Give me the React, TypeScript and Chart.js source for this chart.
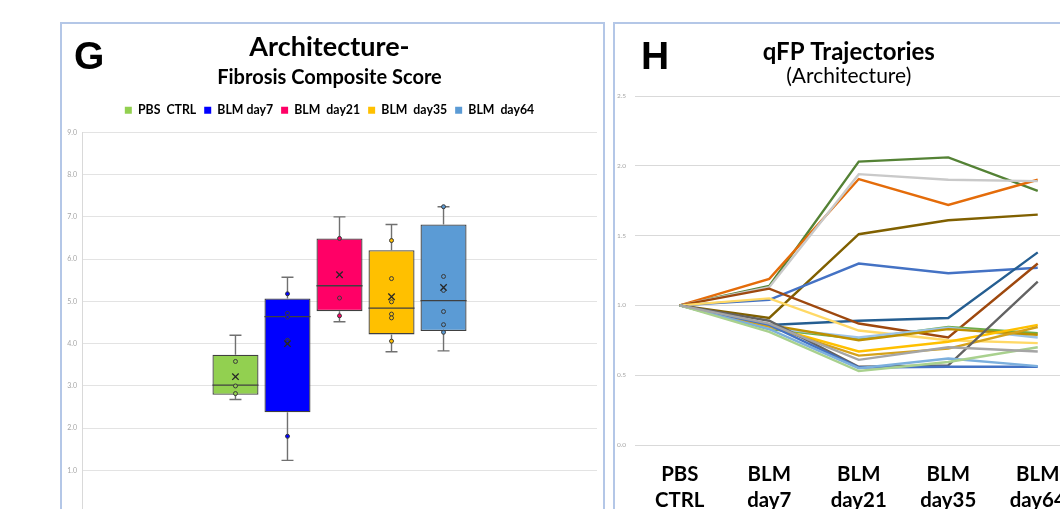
import React, { useEffect, useRef } from "react";
import { Chart, registerables } from "chart.js";

Chart.register(...registerables);

// ---------- Panel G: box plot data ----------
const boxSeries = ["PBS  CTRL", "BLM day7", "BLM  day21", "BLM  day35", "BLM  day64"];
const boxColors = ["#92D050", "#0000FF", "#FF0066", "#FFC000", "#5B9BD5"];
const boxMin = [2.68, 1.24, 4.52, 3.81, 3.83];
const boxQ1 = [2.79, 2.38, 4.77, 4.22, 4.3];
const boxMedian = [3.02, 4.64, 5.37, 4.84, 5.02];
const boxQ3 = [3.74, 5.07, 6.49, 6.21, 6.82];
const boxMax = [4.2, 5.57, 7.0, 6.82, 7.24];
const boxMean = [3.22, 4.0, 5.63, 5.11, 5.33];
const boxPointsCtrl = [3.58, 3.0, 2.82];
const boxPointsDay7 = [5.18, 4.72, 4.63, 4.08, 4.04, 1.81];
const boxPointsDay21 = [6.49, 5.08, 4.66];
const boxPointsDay35 = [6.44, 5.54, 4.99, 4.7, 4.61, 4.06];
const boxPointsDay64 = [7.24, 5.59, 5.26, 4.76, 4.45, 4.27];
const boxPoints = [boxPointsCtrl, boxPointsDay7, boxPointsDay21, boxPointsDay35, boxPointsDay64];
const boxAxisMin = 0;
const boxAxisMax = 9;

// ---------- Panel H: trajectory data ----------
const trajCategories = [
  ["PBS", "CTRL"],
  ["BLM", "day7"],
  ["BLM", "day21"],
  ["BLM", "day35"],
  ["BLM", "day64"],
];
const trajA = [1, 1.14, 2.03, 2.06, 1.82];
const trajB = [1, 1.13, 1.94, 1.9, 1.89];
const trajC = [1, 1.19, 1.905, 1.72, 1.9];
const trajD = [1, 0.91, 1.51, 1.61, 1.65];
const trajE = [1, 1.04, 1.3, 1.23, 1.27];
const trajF = [1, 0.86, 0.89, 0.91, 1.38];
const trajG = [1, 1.12, 0.87, 0.77, 1.3];
const trajH = [1, 0.89, 0.56, 0.57, 1.17];
const trajI = [1, 1.05, 0.82, 0.75, 0.73];
const trajJ = [1, 0.81, 0.53, 0.595, 0.7];
const trajK = [1, 0.83, 0.76, 0.845, 0.8];
const trajL = [1, 0.84, 0.77, 0.84, 0.77];
const trajM = [1, 0.86, 0.555, 0.56, 0.56];
const trajN = [1, 0.83, 0.55, 0.62, 0.565];
const trajO = [1, 0.86, 0.75, 0.83, 0.79];
const trajP = [1, 0.85, 0.67, 0.74, 0.86];
const trajQ = [1, 0.85, 0.64, 0.69, 0.845];
const trajR = [1, 0.87, 0.61, 0.7, 0.67];
const trajSeries = [trajR, trajJ, trajN, trajM, trajH, trajQ, trajP, trajO, trajL, trajK, trajI, trajG, trajF, trajE, trajD, trajB, trajC, trajA];
const trajNames = ["R", "J", "N", "M", "H", "Q", "P", "O", "L", "K", "I", "G", "F", "E", "D", "B", "C", "A"];
const trajColors = [
  "#A5A5A5", "#A9D18E", "#7CAFDD", "#4472C4", "#636363", "#D6A21A", "#FFC000", "#BF9000", "#9DC3E6",
  "#70AD47", "#FFD966", "#9E480E", "#255E91", "#4472C4", "#806000", "#C9C9C9", "#E46C0A", "#548235",
];

const boxDetailPlugin = {
  id: "boxDetails",
  afterDatasetsDraw(chart: any) {
    const ctx = chart.ctx;
    const y = chart.scales.y;
    chart.data.datasets.forEach((_ds: any, i: number) => {
      const meta = chart.getDatasetMeta(i);
      const el: any = meta.data[0];
      if (!el) return;
      const x = el.x;
      const half = el.width / 2;
      const cap = el.width * 0.13;
      const yMax = y.getPixelForValue(boxMax[i]);
      const yQ3 = y.getPixelForValue(boxQ3[i]);
      const yQ1 = y.getPixelForValue(boxQ1[i]);
      const yMin = y.getPixelForValue(boxMin[i]);
      const yMed = y.getPixelForValue(boxMedian[i]);
      const yMean = y.getPixelForValue(boxMean[i]);
      ctx.save();
      ctx.strokeStyle = "#707070";
      ctx.lineWidth = 1.4;
      ctx.beginPath();
      ctx.moveTo(x, yQ3);
      ctx.lineTo(x, yMax);
      ctx.moveTo(x - cap, yMax);
      ctx.lineTo(x + cap, yMax);
      ctx.moveTo(x, yQ1);
      ctx.lineTo(x, yMin);
      ctx.moveTo(x - cap, yMin);
      ctx.lineTo(x + cap, yMin);
      ctx.stroke();
      ctx.strokeStyle = "#404040";
      ctx.lineWidth = 1.3;
      ctx.beginPath();
      ctx.moveTo(x - half, yMed);
      ctx.lineTo(x + half, yMed);
      ctx.stroke();
      boxPoints[i].forEach((v) => {
        const py = y.getPixelForValue(v);
        ctx.beginPath();
        ctx.arc(x, py, 2, 0, Math.PI * 2);
        ctx.fillStyle = boxColors[i];
        ctx.fill();
        ctx.strokeStyle = "#3a3a3a";
        ctx.lineWidth = 1;
        ctx.stroke();
      });
      const s = 3.2;
      ctx.strokeStyle = "#262626";
      ctx.lineWidth = 1.3;
      ctx.beginPath();
      ctx.moveTo(x - s, yMean - s);
      ctx.lineTo(x + s, yMean + s);
      ctx.moveTo(x + s, yMean - s);
      ctx.lineTo(x - s, yMean + s);
      ctx.stroke();
      ctx.restore();
    });
  },
};

export default function App() {
  const boxRef = useRef<HTMLCanvasElement | null>(null);
  const lineRef = useRef<HTMLCanvasElement | null>(null);

  useEffect(() => {
    const boxChart = new Chart(boxRef.current as HTMLCanvasElement, {
      type: "bar",
      data: {
        labels: [""],
        datasets: boxSeries.map((name, i) => ({
          label: name,
          data: [[boxQ1[i], boxQ3[i]]],
          backgroundColor: boxColors[i],
          borderColor: "#404040",
          borderWidth: 1.3,
          borderSkipped: false,
          categoryPercentage: 0.505,
          barPercentage: 0.885,
        })) as any,
      },
      options: {
        animation: false,
        responsive: false,
        maintainAspectRatio: false,
        layout: { padding: { left: 0, right: 6, top: 0, bottom: 3.3 } },
        plugins: {
          title: {
            display: true,
            text: "Architecture-",
            color: "#000",
            font: { family: "Lato", size: 27, weight: "bold", lineHeight: 1.2 },
            padding: { top: 7.3, bottom: 0 },
          },
          subtitle: {
            display: true,
            text: "Fibrosis Composite Score",
            color: "#000",
            font: { family: "Lato", size: 20, weight: "bold", lineHeight: 1.2 },
            padding: { top: 2.3, bottom: 6 },
          },
          legend: {
            display: true,
            position: "top",
            labels: {
              boxWidth: 7,
              boxHeight: 7,
              padding: 8,
              color: "#000",
              font: { family: "Lato", size: 12.3, weight: "bold" },
              generateLabels: (chart: any) =>
                (Chart.defaults.plugins.legend.labels.generateLabels as any)(chart).map((l: any) => ({
                  ...l,
                  lineWidth: 0,
                  strokeStyle: l.fillStyle,
                })),
            },
          },
          tooltip: { enabled: false },
        },
        scales: {
          x: {
            position: "top",
            ticks: { display: false },
            grid: { display: false, drawTicks: false },
            border: { display: false },
            afterFit: (s: any) => {
              s.height = 6;
            },
          },
          y: {
            min: boxAxisMin,
            max: boxAxisMax,
            ticks: {
              stepSize: 1,
              padding: 5,
              color: "#a6a6a6",
              font: { family: "Lato", size: 7 },
              callback: (v: any) => Number(v).toFixed(1),
            },
            grid: { color: "#e3e3e3", drawTicks: false },
            border: { display: true, color: "#d9d9d9" },
            afterFit: (s: any) => {
              s.width = 20;
            },
          },
        },
      } as any,
      plugins: [boxDetailPlugin],
    });

    const lineChart = new Chart(lineRef.current as HTMLCanvasElement, {
      type: "line",
      data: {
        labels: trajCategories as any,
        datasets: trajSeries.map((vals, i) => ({
          label: trajNames[i],
          data: vals,
          borderColor: trajColors[i],
          backgroundColor: trajColors[i],
          borderWidth: 2.4,
          pointRadius: 0,
          tension: 0,
          fill: false,
        })),
      },
      options: {
        animation: false,
        responsive: false,
        maintainAspectRatio: false,
        layout: { padding: { left: 0, right: 2.5, top: 0, bottom: 0 } },
        plugins: {
          legend: { display: false },
          tooltip: { enabled: false },
          title: {
            display: true,
            text: "qFP Trajectories",
            color: "#000",
            font: { family: "Lato", size: 24, weight: "bold", lineHeight: 1.0 },
            padding: { top: 16, bottom: 0 },
          },
          subtitle: {
            display: true,
            text: "(Architecture)",
            color: "#000",
            font: { family: "Lato", size: 21, lineHeight: 1.0 },
            padding: { top: 1.5, bottom: 9.5 },
          },
        },
        scales: {
          x: {
            offset: true,
            grid: { display: false, drawTicks: false },
            border: { display: false },
            ticks: {
              autoSkip: false,
              maxRotation: 0,
              padding: 16,
              color: "#000",
              font: { family: "Lato", size: 20.4, weight: "bold", lineHeight: 1.275 },
            },
            afterFit: (s: any) => {
              s.height = 64;
            },
          },
          y: {
            min: 0,
            max: 2.5,
            ticks: {
              stepSize: 0.5,
              padding: 9,
              color: "#a6a6a6",
              font: { family: "Lato", size: 6.5 },
              callback: (v: any) => Number(v).toFixed(1),
            },
            grid: { color: "#d9d9d9", drawTicks: false },
            border: { display: false },
            afterFit: (s: any) => {
              s.width = 20;
            },
          },
        },
      } as any,
    });

    return () => {
      boxChart.destroy();
      lineChart.destroy();
    };
  }, []);

  const letterStyle: React.CSSProperties = {
    position: "absolute",
    top: 36,
    fontFamily: "'Liberation Sans', Arial, sans-serif",
    fontWeight: "bold",
    fontSize: 39,
    lineHeight: "39px",
    color: "#000",
  };

  return (
    <div
      style={{
        position: "fixed",
        left: 0,
        top: 0,
        width: 1060,
        height: 509,
        overflow: "hidden",
        background: "#fff",
      }}
    >
      <div
        style={{
          position: "absolute",
          left: 60,
          top: 22,
          width: 545,
          height: 520,
          boxSizing: "border-box",
          border: "2px solid #b4c7e7",
        }}
      />
      <div
        style={{
          position: "absolute",
          left: 613,
          top: 22,
          width: 480,
          height: 520,
          boxSizing: "border-box",
          border: "2px solid #b4c7e7",
        }}
      />
      <canvas
        ref={boxRef}
        width={541}
        height={498}
        style={{ position: "absolute", left: 62, top: 24, width: 541, height: 498 }}
      />
      <canvas
        ref={lineRef}
        width={470}
        height={485}
        style={{ position: "absolute", left: 615, top: 24, width: 470, height: 485 }}
      />
      <div style={{ ...letterStyle, left: 74 }}>G</div>
      <div style={{ ...letterStyle, left: 641 }}>H</div>
    </div>
  );
}
